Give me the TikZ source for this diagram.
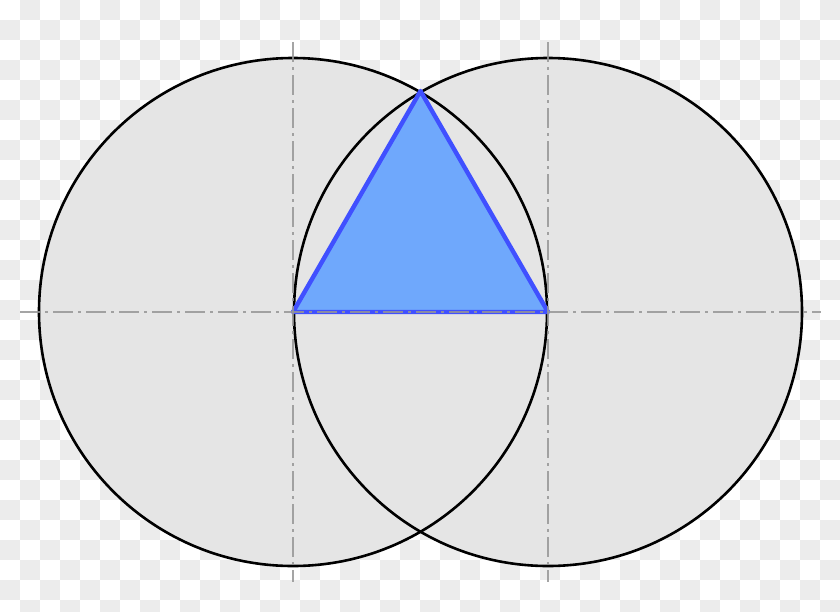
\documentclass[tikz,border=0pt]{standalone}
\usetikzlibrary{calc}
\definecolor{chk}{RGB}{236,236,236}
\definecolor{disk}{RGB}{229,229,229}
\definecolor{cline}{RGB}{150,150,150}
\definecolor{trifill}{RGB}{111,168,252}
\definecolor{triedge}{RGB}{64,80,255}
\tikzset{
  diskfill/.style={fill=disk},
  diskedge/.style={draw=black, line width=2.6pt},
  centerline/.style={draw=cline, line width=2.2pt, dash pattern=on 20pt off 5pt on 3pt off 5pt, opacity=0.85},
  tri/.style={fill=trifill, draw=triedge, line width=4.4pt, line join=round}
}
\begin{document}
\begin{tikzpicture}[x=1pt,y=-1pt]
\useasboundingbox (0,0) rectangle (840,611);
\fill[white] (0,0) rectangle (840,611);
\foreach \i in {0,...,41}{
  \foreach \j in {0,...,30}{
    \pgfmathtruncatemacro{\odd}{mod(\i+\j,2)}
    \ifnum\odd=1 \fill[chk] (\i*20,\j*20) rectangle ++(20,20);\fi
  }
}
\coordinate (A) at (293,312);
\coordinate (B) at (548,312);
\coordinate (C) at (420.5,91);
\coordinate (hl) at (20,312);
\coordinate (hr) at (821,312);
\coordinate (v1t) at (293,42);
\coordinate (v1b) at (293,582);
\coordinate (v2t) at (548,42);
\coordinate (v2b) at (548,582);
\fill[diskfill] (A) circle (254);
\fill[diskfill] (B) circle (254);
\draw[diskedge] (A) circle (254);
\draw[diskedge] (B) circle (254);
\draw[tri] (A) -- (B) -- (C) -- cycle;
\draw[centerline] (hl) -- (hr);
\draw[centerline] (v1t) -- (v1b);
\draw[centerline] (v2t) -- (v2b);
\end{tikzpicture}
\end{document}
